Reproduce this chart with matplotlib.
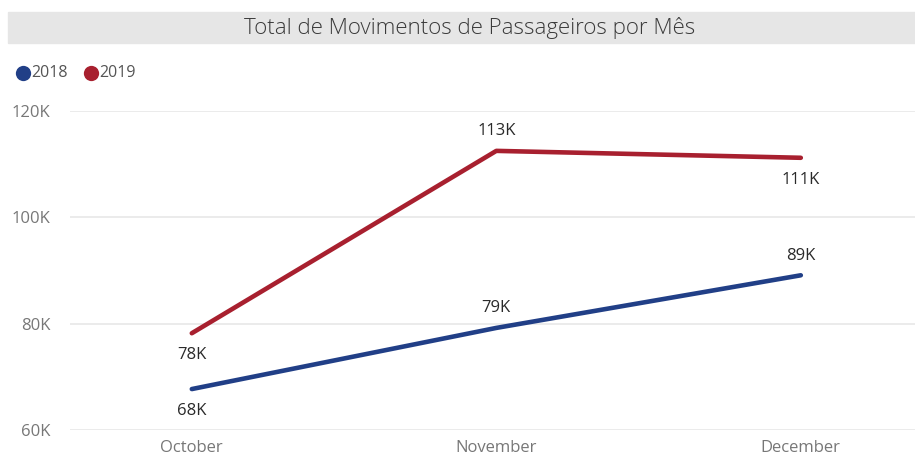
import matplotlib.pyplot as plt
from matplotlib.patches import Rectangle
from matplotlib.lines import Line2D

months = ['October', 'November', 'December']
pax_2018 = [67700, 79200, 89100]
pax_2019 = [78200, 112500, 111200]
labels_2018 = ['68K', '79K', '89K']
labels_2019 = ['78K', '113K', '111K']
pos_2018 = ['below', 'above', 'above']
pos_2019 = ['below', 'above', 'below']
yticks = [60000, 80000, 100000, 120000]
ytick_labels = ['60K', '80K', '100K', '120K']

blue = '#213f87'
red = '#a8202f'

plt.rcParams['font.family'] = ['Open Sans', 'DejaVu Sans']

W, H = 915, 459
fig = plt.figure(figsize=(W / 100, H / 100), dpi=100)

# title band
fig.patches.append(Rectangle((8 / W, 1 - 43 / H), (W - 8) / W, 31 / H,
                             transform=fig.transFigure, color='#e6e6e6', zorder=0))
fig.text(470 / W, 1 - 28 / H, 'Total de Movimentos de Passageiros por Mês',
         ha='center', va='center', fontsize=16, color='#3a3a3a', weight='light')

# legend
for x0, c, t in [(23, blue, '2018'), (91, red, '2019')]:
    fig.add_artist(Line2D([x0 / W], [1 - 73 / H], marker='o', ms=11, color=c,
                          mec='none', transform=fig.transFigure))
    fig.text((x0 + 8) / W, 1 - 73 / H, t, ha='left', va='center', fontsize=11.5,
             color='#555555')

ax = fig.add_axes([70 / W, (H - 430) / H, (W - 70) / W, (430 - 111) / H])
x = range(len(months))
ax.plot(x, pax_2018, color=blue, lw=3.3, solid_capstyle='round')
ax.plot(x, pax_2019, color=red, lw=3.3, solid_capstyle='round')

for vals, labs, pos in [(pax_2018, labels_2018, pos_2018), (pax_2019, labels_2019, pos_2019)]:
    for i, (v, l, p) in enumerate(zip(vals, labs, pos)):
        dy = 14 if p == 'above' else -16
        ax.annotate(l, (i, v), xytext=(0, dy), textcoords='offset points',
                    ha='center', va='center', fontsize=12, color='#2a2a2a')

ax.set_xlim(-0.4, 2.375)
ax.set_ylim(60000, 120000)
ax.set_xticks(list(x))
ax.set_xticklabels(months)
ax.set_yticks(yticks)
ax.set_yticklabels(ytick_labels)
ax.tick_params(length=0, colors='#777777', labelsize=12)
ax.tick_params(axis='y', pad=14)
ax.tick_params(axis='x', pad=7)
ax.grid(axis='y', color='#e8e8e8', lw=1.2)
ax.set_axisbelow(True)
for s in ax.spines.values():
    s.set_visible(False)
for ln in ax.lines:
    ln.set_clip_on(False)

fig.savefig('out.png', dpi=100)
